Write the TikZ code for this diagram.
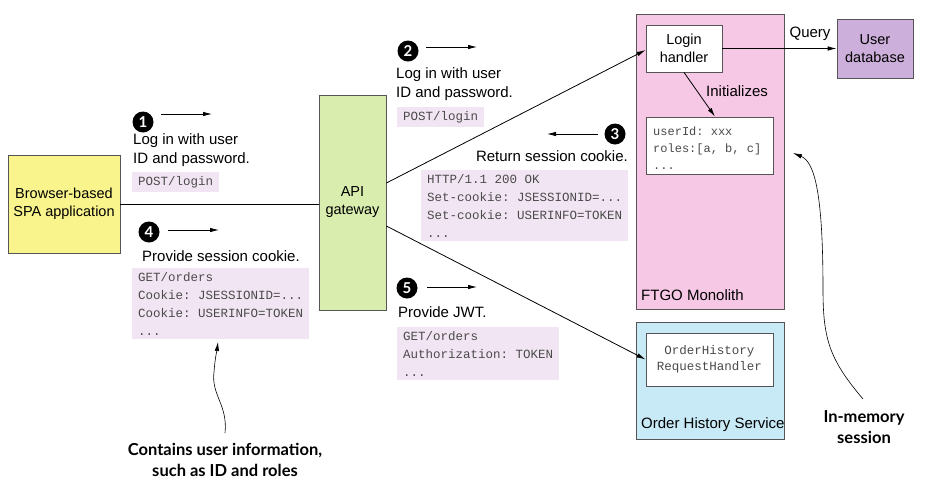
\documentclass[tikz,border=0pt]{standalone}
\usepackage{fontspec}
\setmainfont{Liberation Sans}
\setmonofont{Liberation Mono}
\newfontfamily\annotfont{Lato}
\usetikzlibrary{arrows.meta}
\definecolor{yel}{HTML}{F9F48C}
\definecolor{grn}{HTML}{D9EDAF}
\definecolor{pnk}{HTML}{F7C8E5}
\definecolor{pur}{HTML}{CCAFDA}
\definecolor{blu}{HTML}{C8EAF7}
\definecolor{lav}{HTML}{F2E5F3}
\definecolor{bord}{HTML}{555555}
\definecolor{codec}{HTML}{4A4A4A}
\begin{document}
\begin{tikzpicture}[x=1pt,y=-1pt,
  box/.style={draw=bord, line width=0.8pt, inner sep=0pt, align=center, font=\fontsize{14.5}{18}\selectfont},
  code/.style={fill=lav, anchor=north west, align=left, inner xsep=6pt, inner ysep=4pt, font=\ttfamily\fontsize{12.5}{18}\selectfont, text=codec},
  lbl/.style={align=left, font=\fontsize{15}{19}\selectfont, inner sep=0pt},
  num/.style={circle, fill=black, text=white, inner sep=0pt, minimum size=21pt, font=\annotfont\bfseries\fontsize{15}{15}\selectfont},
  arr/.style={-{Latex[length=9pt,width=4.5pt]}, line width=0.8pt},
  note/.style={align=center, font=\annotfont\bfseries\fontsize{16.5}{20.5}\selectfont}]
\useasboundingbox (0,0) rectangle (932,491);
% main boxes
\node[box, fill=yel, minimum width=112pt, minimum height=98pt] (spa) at (64,204) {Browser-based\\SPA application};
\node[box, fill=grn, minimum width=67pt, minimum height=215pt] (gw) at (352.5,202.5) {API\\gateway};
\node[box, fill=pnk, minimum width=148pt, minimum height=295pt] (ftgo) at (710,161.5) {};
\node[box, fill=blu, minimum width=148pt, minimum height=117pt] (ohs) at (710,380.5) {};
\node[box, fill=white, minimum width=76pt, minimum height=47pt] (lh) at (684,48.5) {Login\\handler};
\node[box, fill=pur, minimum width=76pt, minimum height=59pt] (udb) at (875,48.5) {User\\database};
\node[box, fill=white, minimum width=127pt, minimum height=57pt] (sess) at (709.5,145.5) {};
\node[anchor=west, align=left, inner sep=0pt, font=\ttfamily\fontsize{12}{17}\selectfont, text=codec] (sesst) at (653,148) {userId: xxx\\roles:[a, b, c]\\...};
\node[box, fill=white, minimum width=127pt, minimum height=53pt, font=\ttfamily\fontsize{12.5}{15.5}\selectfont, text=codec] (ohh) at (709.5,359.5) {OrderHistory\\RequestHandler};
\node[lbl, anchor=west] (ftgol) at (641,295) {FTGO Monolith};
\node[lbl, anchor=west] (ohsl) at (641,425) {Order History Service};
% connectors
\draw[line width=0.8pt] (spa.east) -- (spa.east -| gw.west);
\draw[arr] ([yshift=19.5pt]gw.east) -- ([yshift=-1.5pt]lh.west);
\draw[arr] ([yshift=-23.5pt]gw.east) -- (ohh.west);
\draw[arr] (lh.east) -- (lh.east -| udb.west);
\node[lbl, anchor=south] (ql) at (810,41) {Query};
\draw[arr] (lh.south) -- ([xshift=5.5pt]sess.north);
\node[lbl, anchor=west] (il) at (706,91) {Initializes};
% step 1
\node[num] (n1) at (143,122) {1};
\coordinate (a1s) at (161,114); \coordinate (a1e) at (212,114);
\draw[arr] (a1s) -- (a1e);
\node[lbl, anchor=north west] (t1) at (133,133) {Log in with user\\ID and password.};
\node[code] (c1) at (132,172) {POST/login};
% step 4
\node[num] (n4) at (149,232) {4};
\coordinate (a4s) at (168,230); \coordinate (a4e) at (219,230);
\draw[arr] (a4s) -- (a4e);
\node[lbl, anchor=north west] (t4) at (142,250) {Provide session cookie.};
\node[code] (c4) at (132,268) {GET/orders\\Cookie: JSESSIONID=...\\Cookie: USERINFO=TOKEN\\...};
% step 2
\node[num] (n2) at (408,51) {2};
\coordinate (a2s) at (426,47); \coordinate (a2e) at (477,47);
\draw[arr] (a2s) -- (a2e);
\node[lbl, anchor=north west] (t2) at (396,67) {Log in with user\\ID and password.};
\node[code] (c2) at (397,107) {POST/login};
% step 3
\node[num] (n3) at (615,134) {3};
\coordinate (a3s) at (598,134); \coordinate (a3e) at (547,134);
\draw[arr] (a3s) -- (a3e);
\node[lbl, anchor=north east] (t3) at (628,150) {Return session cookie.};
\node[code] (c3) at (421,170) {HTTP/1.1 200 OK\\Set-cookie: JSESSIONID=...\\Set-cookie: USERINFO=TOKEN\\...};
% step 5
\node[num] (n5) at (407,288) {5};
\coordinate (a5s) at (427,287); \coordinate (a5e) at (477,287);
\draw[arr] (a5s) -- (a5e);
\node[lbl, anchor=north west] (t5) at (398,306) {Provide JWT.};
\node[code] (c5) at (397,327) {GET/orders\\Authorization: TOKEN\\...};
% annotations
\node[note] (nc) at (225,460) {Contains user information,\\such as ID and roles};
\coordinate (ncs) at (225,433); \coordinate (nct) at (218,342);
\draw[arr, line width=0.6pt] (ncs) .. controls (228,405) and (211,395) .. (214,372) .. controls (215,358) and (217,350) .. (nct);
\node[note] (nm) at (864,427) {In-memory\\session};
\coordinate (nms) at (863,399); \coordinate (nmt) at (793,153);
\draw[arr, line width=0.6pt] (nms) .. controls (830,360) and (823,340) .. (823,290) .. controls (823,195) and (815,162) .. (nmt);
\end{tikzpicture}
\end{document}
